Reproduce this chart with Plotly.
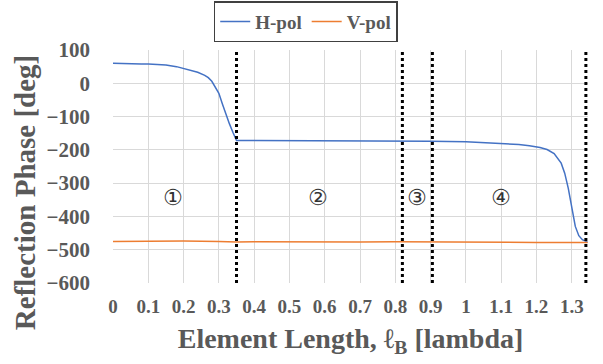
import plotly.graph_objects as go

# H-pol data
h_x = [0, 0.02, 0.05, 0.08, 0.1, 0.12, 0.15, 0.18, 0.2, 0.22, 0.24, 0.26, 0.27, 0.28, 0.29,
       0.30, 0.31, 0.32, 0.33, 0.34, 0.35, 0.4, 0.5, 0.6, 0.7, 0.8, 0.9, 1.0, 1.05,
       1.1, 1.15, 1.18, 1.2, 1.21, 1.23, 1.25, 1.27, 1.28, 1.29, 1.30, 1.31, 1.32,
       1.33, 1.34, 1.345]
h_y = [60, 59, 59, 58, 58, 57, 55, 50, 45, 40, 33, 24, 17, 6, -10,
       -30, -62, -95, -122, -148, -172, -172, -172, -172, -172, -173, -174, -176, -178,
       -181, -184, -188, -190, -193, -199, -211, -240, -270, -315, -370, -430, -458,
       -470, -475, -478]

# V-pol data
v_x = [0, 0.1, 0.2, 0.3, 0.35, 0.4, 0.5, 0.6, 0.7, 0.8, 0.9, 1.0, 1.1, 1.2, 1.3, 1.345]
v_y = [-475, -474, -474, -475, -477, -476, -477, -476, -477, -476, -477, -477, -477, -478, -478, -478]

# Region boundaries and labels
boundaries = [0.35, 0.82, 0.905, 1.34]
region_labels = ["①", "②", "③", "④"]
region_x = [0.17, 0.58, 0.862, 1.10]
region_y = -343

x_ticks = [0, 0.1, 0.2, 0.3, 0.4, 0.5, 0.6, 0.7, 0.8, 0.9, 1.0, 1.1, 1.2, 1.3]
x_ticktext = ["0", "0.1", "0.2", "0.3", "0.4", "0.5", "0.6", "0.7", "0.8", "0.9", "1", "1.1", "1.2", "1.3"]

gray = "#595959"
serif = "Liberation Serif"

fig = go.Figure()
fig.add_trace(go.Scatter(x=h_x, y=h_y, mode="lines", name="H-pol",
                         line=dict(color="#4472C4", width=1.5)))
fig.add_trace(go.Scatter(x=v_x, y=v_y, mode="lines", name="V-pol",
                         line=dict(color="#ED7D31", width=1.5)))

for b in boundaries:
    fig.add_shape(type="line", x0=b, x1=b, y0=0, y1=1, xref="x", yref="paper",
                  line=dict(color="black", width=3, dash="dot"))

for lab, lx in zip(region_labels, region_x):
    fig.add_annotation(x=lx, y=region_y, text=lab, showarrow=False,
                       font=dict(family="DejaVu Sans", size=22, color="#333333"))

# y-axis title (placed as rotated annotation to match original offset)
fig.add_annotation(x=-0.185, y=0.386, xref="paper", yref="paper",
                   text="Reflection Phase [deg]", textangle=-90, showarrow=False,
                   xanchor="center", yanchor="middle",
                   font=dict(family=serif, size=29, color=gray, weight="bold"))

fig.update_layout(
    width=603, height=364,
    margin=dict(l=113, r=15, t=50, b=81, autoexpand=False),
    paper_bgcolor="white", plot_bgcolor="white",
    font=dict(family=serif, color=gray),
    legend=dict(orientation="h", x=0.507, xref="container", xanchor="center",
                y=0.997, yref="container", yanchor="top",
                bordercolor="#404040", borderwidth=1.5,
                font=dict(family=serif, size=19, color=gray, weight="bold"),
                itemwidth=30, tracegroupgap=0),
    xaxis=dict(range=[0, 1.346], tickvals=x_ticks, ticktext=x_ticktext,
               showgrid=True, gridcolor="#d9d9d9", gridwidth=1,
               zeroline=False, showline=False, ticks="",
               ticklabelstandoff=10,
               tickfont=dict(family=serif, size=19, color=gray, weight="bold"),
               title=dict(text="Element Length, ℓ<sub>B</sub> [lambda]",
                          font=dict(family=serif, size=28, color=gray, weight="bold"),
                          standoff=12)),
    yaxis=dict(range=[-600, 100], dtick=100,
               showgrid=True, gridcolor="#d9d9d9", gridwidth=1,
               zeroline=False, showline=False, ticks="",
               ticklabelstandoff=22,
               tickfont=dict(family=serif, size=21, color=gray, weight="bold")),
)

fig.write_html("out.html", config={"displayModeBar": False},
               post_script="document.body.style.margin='0';")
